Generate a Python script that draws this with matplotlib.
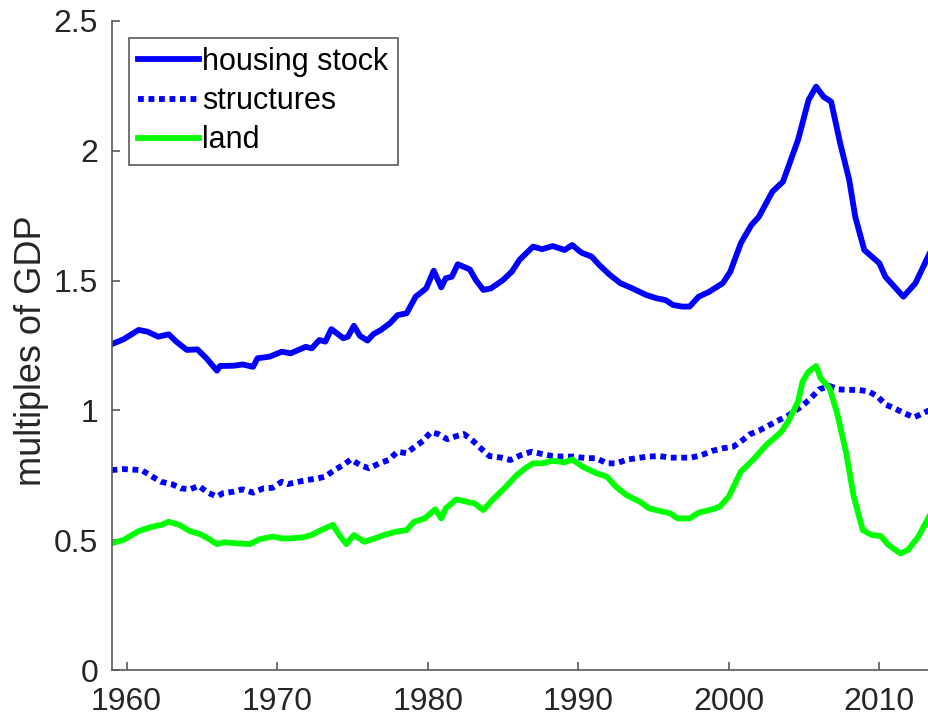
import matplotlib
matplotlib.use("Agg")
import matplotlib.pyplot as plt

plt.rcParams['font.family'] = ['Liberation Sans', 'DejaVu Sans']

# housing stock
hs_year = [1959.0, 1959.8, 1960.8, 1961.4, 1962.1, 1962.8, 1963.3, 1964.0, 1964.7, 1965.3,
           1966.0, 1966.2, 1967.1, 1967.7, 1968.4, 1968.7, 1969.5, 1970.3, 1970.9, 1971.9,
           1972.3, 1972.8, 1973.2, 1973.6, 1974.4, 1974.7, 1975.1, 1975.5, 1976.0, 1976.4,
           1976.9, 1977.5, 1978.0, 1978.6, 1979.2, 1979.9, 1980.4, 1980.9, 1981.2, 1981.6,
           1982.0, 1982.8, 1983.2, 1983.7, 1984.2, 1985.0, 1985.6, 1986.1, 1987.0, 1987.6,
           1988.3, 1989.1, 1989.6, 1990.2, 1990.9, 1991.4, 1992.1, 1992.8, 1993.6, 1994.5,
           1995.2, 1995.8, 1996.3, 1996.9, 1997.4, 1998.0, 1998.7, 1999.6, 2000.1, 2000.8,
           2001.5, 2002.0, 2002.9, 2003.6, 2004.6, 2005.3, 2005.8, 2006.3, 2006.8, 2007.4,
           2008.0, 2008.4, 2009.0, 2010.0, 2010.4, 2011.1, 2011.6, 2012.4, 2013.3]
hs_val = [1.255, 1.274, 1.310, 1.303, 1.284, 1.293, 1.265, 1.233, 1.235, 1.201,
          1.153, 1.171, 1.172, 1.177, 1.168, 1.201, 1.207, 1.226, 1.220, 1.245,
          1.239, 1.271, 1.265, 1.313, 1.278, 1.284, 1.326, 1.287, 1.269, 1.294,
          1.310, 1.336, 1.367, 1.374, 1.438, 1.470, 1.538, 1.474, 1.509, 1.515,
          1.563, 1.543, 1.502, 1.464, 1.470, 1.502, 1.535, 1.580, 1.631, 1.621,
          1.633, 1.618, 1.637, 1.608, 1.592, 1.560, 1.522, 1.490, 1.470, 1.445,
          1.432, 1.425, 1.406, 1.400, 1.400, 1.438, 1.457, 1.490, 1.534, 1.644,
          1.714, 1.746, 1.843, 1.881, 2.042, 2.196, 2.247, 2.208, 2.189, 2.029,
          1.888, 1.746, 1.618, 1.567, 1.515, 1.470, 1.438, 1.490, 1.600]

# structures
st_year = [1959.0, 1959.8, 1961.0, 1961.7, 1962.3, 1963.0, 1963.6, 1964.2, 1964.8, 1965.4,
           1966.0, 1966.4, 1967.1, 1967.7, 1968.4, 1969.1, 1969.7, 1970.3, 1970.7, 1971.4,
           1972.0, 1972.7, 1973.2, 1973.8, 1974.4, 1974.9, 1975.5, 1976.1, 1976.8, 1977.4,
           1978.0, 1978.6, 1979.1, 1979.7, 1980.2, 1980.7, 1981.3, 1981.8, 1982.4, 1983.0,
           1983.6, 1984.1, 1984.8, 1985.5, 1986.2, 1986.9, 1987.6, 1988.3, 1989.0, 1989.7,
           1990.5, 1991.2, 1991.9, 1992.5, 1993.3, 1993.9, 1994.6, 1995.4, 1996.1, 1996.7,
           1997.5, 1998.2, 1998.9, 1999.6, 2000.3, 2000.8, 2001.4, 2002.0, 2002.6, 2003.2,
           2003.9, 2004.5, 2005.0, 2005.5, 2006.0, 2006.7, 2007.3, 2008.0, 2008.6, 2009.3,
           2009.9, 2010.4, 2011.0, 2011.6, 2012.3, 2012.9, 2013.3]
st_val = [0.770, 0.774, 0.770, 0.745, 0.725, 0.716, 0.700, 0.696, 0.709, 0.683,
          0.668, 0.681, 0.687, 0.696, 0.683, 0.700, 0.702, 0.725, 0.716, 0.725,
          0.732, 0.738, 0.745, 0.770, 0.790, 0.811, 0.790, 0.777, 0.796, 0.809,
          0.841, 0.835, 0.858, 0.883, 0.916, 0.909, 0.889, 0.899, 0.909, 0.883,
          0.850, 0.824, 0.819, 0.809, 0.828, 0.841, 0.832, 0.824, 0.822, 0.822,
          0.816, 0.816, 0.796, 0.796, 0.811, 0.816, 0.822, 0.824, 0.818, 0.818,
          0.818, 0.828, 0.844, 0.854, 0.860, 0.880, 0.908, 0.922, 0.940, 0.959,
          0.978, 1.002, 1.023, 1.050, 1.081, 1.094, 1.081, 1.079, 1.079, 1.073,
          1.053, 1.023, 1.008, 0.991, 0.973, 0.989, 1.000]

# land
ld_year = [1959.0, 1959.8, 1960.8, 1961.7, 1962.3, 1962.8, 1963.5, 1964.2, 1964.9, 1965.4,
           1966.0, 1966.5, 1967.3, 1968.2, 1968.8, 1969.7, 1970.3, 1970.9, 1971.7, 1972.3,
           1972.7, 1973.2, 1973.7, 1974.2, 1974.6, 1975.1, 1975.8, 1976.5, 1977.1, 1977.9,
           1978.6, 1979.1, 1979.8, 1980.5, 1980.9, 1981.2, 1981.9, 1982.6, 1983.1, 1983.7,
           1984.3, 1985.1, 1985.9, 1986.5, 1987.0, 1987.6, 1988.3, 1989.1, 1989.6, 1990.3,
           1991.2, 1991.9, 1992.5, 1993.2, 1994.1, 1994.7, 1995.6, 1996.1, 1996.6, 1997.4,
           1998.0, 1998.9, 1999.4, 2000.0, 2000.8, 2001.6, 2002.5, 2003.5, 2004.0, 2004.6,
           2004.9, 2005.3, 2005.8, 2006.1, 2006.7, 2007.2, 2007.8, 2008.3, 2008.9, 2009.5,
           2010.1, 2010.6, 2011.4, 2011.9, 2012.6, 2013.3]
ld_val = [0.488, 0.501, 0.535, 0.552, 0.559, 0.571, 0.559, 0.535, 0.523, 0.507,
          0.485, 0.492, 0.488, 0.485, 0.503, 0.514, 0.507, 0.507, 0.511, 0.520,
          0.533, 0.546, 0.559, 0.514, 0.485, 0.520, 0.494, 0.507, 0.520, 0.533,
          0.539, 0.571, 0.584, 0.619, 0.584, 0.623, 0.657, 0.648, 0.642, 0.616,
          0.655, 0.700, 0.750, 0.778, 0.796, 0.796, 0.806, 0.800, 0.811, 0.783,
          0.758, 0.745, 0.706, 0.674, 0.648, 0.623, 0.610, 0.604, 0.584, 0.584,
          0.606, 0.619, 0.629, 0.668, 0.764, 0.809, 0.867, 0.918, 0.963, 1.034,
          1.111, 1.149, 1.171, 1.124, 1.085, 0.989, 0.835, 0.668, 0.539, 0.520,
          0.516, 0.482, 0.449, 0.462, 0.514, 0.590]

labels = ['housing stock', 'structures', 'land']
x_ticks = [1960, 1970, 1980, 1990, 2000, 2010]
y_ticks = [0, 0.5, 1, 1.5, 2, 2.5]
y_tick_labels = ['0', '0.5', '1', '1.5', '2', '2.5']

fig = plt.figure(figsize=(9.29, 7.23), dpi=100)
ax = fig.add_axes([112 / 929, 1 - 670 / 723, 817 / 929, 649 / 723])

ax.plot(hs_year, hs_val, color=(0, 0, 1), lw=4.2, label=labels[0], solid_joinstyle='round')
ax.plot(st_year, st_val, color=(0, 0, 1), lw=4.2, linestyle=(0, (1.0, 0.8)),
        dash_capstyle='butt', label=labels[1])
ax.plot(ld_year, ld_val, color=(0, 1, 0), lw=4.2, label=labels[2], solid_joinstyle='round')

ax.set_xlim(1959.03, 2013.3)
ax.set_ylim(0, 2.5)
ax.set_xticks(x_ticks)
ax.set_yticks(y_ticks)
ax.set_yticklabels(y_tick_labels)

for s in ['top', 'right']:
    ax.spines[s].set_visible(False)
for s in ['left', 'bottom']:
    ax.spines[s].set_color('#5a5a5a')
    ax.spines[s].set_linewidth(1.2)

ax.tick_params(axis='both', direction='in', length=6, width=1.2, color='#5a5a5a',
               labelsize=23, labelcolor='#262626')
ax.tick_params(axis='x', pad=12)
ax.tick_params(axis='y', pad=10)

ax.set_ylabel('multiples of GDP', fontsize=26, color='#262626')
ax.yaxis.set_label_coords(-0.077, 0.4915)

leg = ax.legend(loc='upper left', bbox_to_anchor=(17 / 817, 1 - 17 / 649),
                borderaxespad=0, fontsize=22, handlelength=2.0, handletextpad=0.1,
                labelspacing=0.3, borderpad=0.3, fancybox=False, framealpha=1)
leg.get_frame().set_edgecolor('#5a5a5a')
leg.get_frame().set_linewidth(1.2)

fig.savefig('out.png', dpi=100)
